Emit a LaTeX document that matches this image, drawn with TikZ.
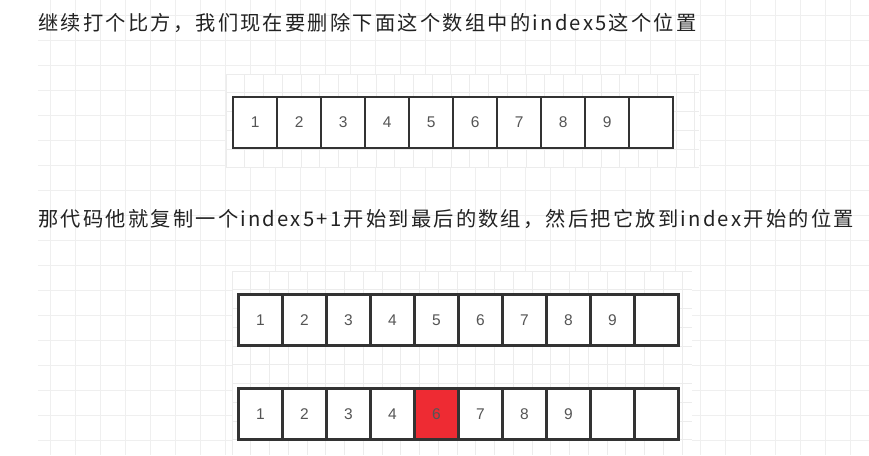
\documentclass[tikz,border=0pt]{standalone}
\usepackage{fontspec}
\newfontfamily\cjk[LetterSpace=11]{Noto Sans CJK SC}
\newfontfamily\numfont{Liberation Sans}
\definecolor{txt}{HTML}{222222}
\definecolor{boxline}{HTML}{333333}
\definecolor{numcol}{HTML}{555555}
\definecolor{gridc}{HTML}{EFEFEF}
\definecolor{gridi}{HTML}{ECECEC}
\definecolor{hot}{RGB}{238,43,51}
\tikzset{
  cell/.style={draw=boxline, line width=2.4pt, minimum width=44pt, minimum height=51pt,
    inner sep=0pt, outer sep=0pt, fill=white, font=\numfont\fontsize{15.5}{18}\selectfont, text=numcol},
  hotcell/.style={cell, fill=hot},
  line/.style={font=\cjk\fontsize{20.25}{24}\selectfont, text=txt, inner sep=0pt, anchor=base west}
}
\begin{document}
\begin{tikzpicture}[x=1pt,y=-1pt]
\useasboundingbox (0,0) rectangle (869,455);
\fill[white] (0,0) rectangle (869,455);
% outer page grid
\foreach \gx in {50,75,...,850} \draw[gridc, line width=1pt] (\gx,0) -- (\gx,455);
\foreach \gy in {15,40,...,440} \draw[gridc, line width=1pt] (38,\gy) -- (869,\gy);
% inner diagram regions
\fill[white] (226,74) rectangle (699,167);
\begin{scope}
\clip (226,74) rectangle (699,167);
\foreach \k in {0,...,26} \draw[gridi, line width=0.8pt] (226+18.75*\k,74) -- (226+18.75*\k,167);
\foreach \k in {0,...,5} \draw[gridi, line width=0.8pt] (226,74+18.75*\k) -- (699,74+18.75*\k);
\end{scope}
\fill[white] (232,271) rectangle (692,455);
\begin{scope}
\clip (232,271) rectangle (692,455);
\foreach \k in {0,...,25} \draw[gridi, line width=0.8pt] (232+18.75*\k,271) -- (232+18.75*\k,455);
\foreach \k in {0,...,10} \draw[gridi, line width=0.8pt] (232,271+18.75*\k) -- (692,271+18.75*\k);
\end{scope}
% texts
\node[line] (t1) at (38,30.6) {继续打个比方，我们现在要删除下面这个数组中的index5这个位置};
\node[line] (t2) at (38,226.6) {那代码他就复制一个index5+1开始到最后的数组，然后把它放到index开始的位置};
% array 1
\foreach \v [count=\i] in {1,2,3,4,5,6,7,8,9,{}}
  \node[cell] (a\i) at ({255.2+44*(\i-1)},122.5) {\v};
% array 2
\foreach \v [count=\i] in {1,2,3,4,5,6,7,8,9,{}}
  \node[cell] (b\i) at ({260.5+44*(\i-1)},320) {\v};
% array 3
\foreach \v [count=\i] in {1,2,3,4,6,7,8,9,{},{}}
  \node[cell] (c\i) at ({260.5+44*(\i-1)},414) {\v};
\node[hotcell] (c5) at ({260.5+44*4},414) {6};
\end{tikzpicture}
\end{document}
